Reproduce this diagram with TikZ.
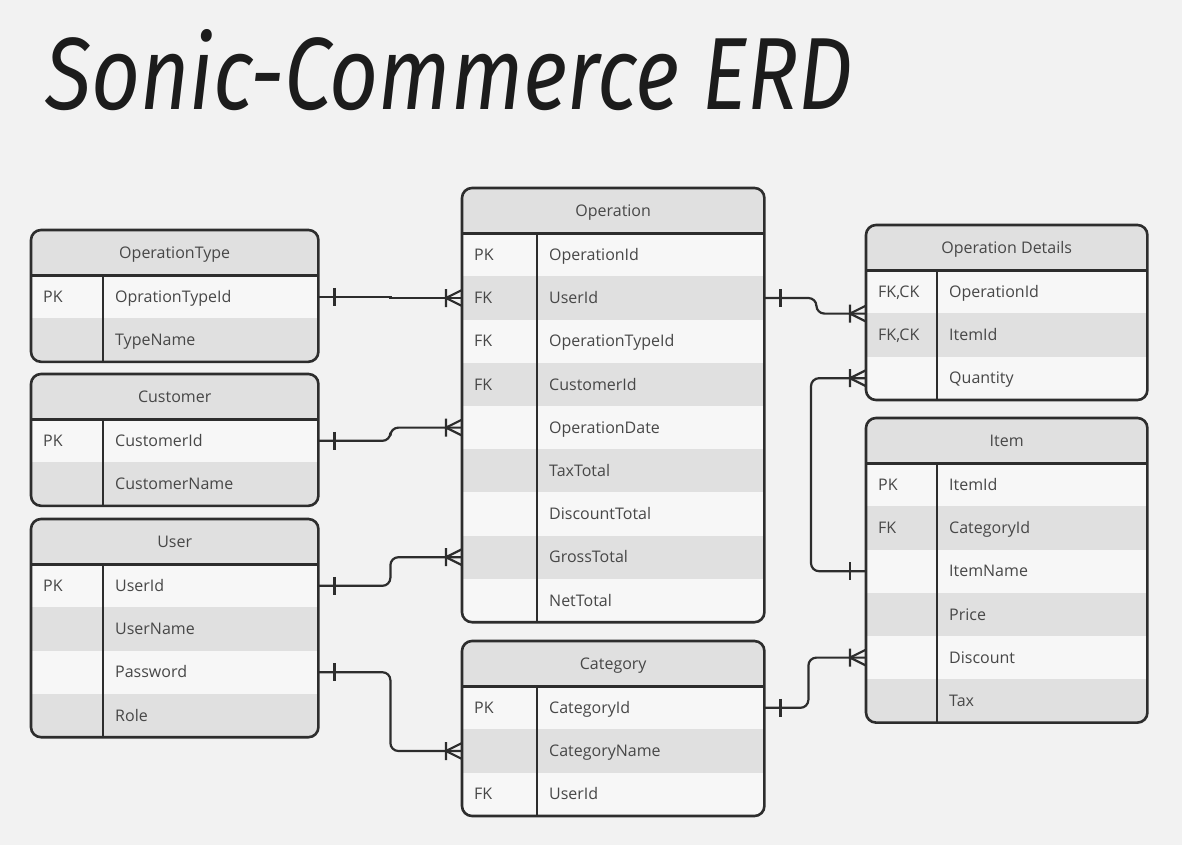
\documentclass[tikz,border=0pt]{standalone}
\usepackage{fontspec}
\usepackage{graphicx}
\setmainfont{Open Sans}
\newfontfamily\titlefont{Fira Sans}
\usetikzlibrary{positioning}

\definecolor{paper}{HTML}{F2F2F2}
\definecolor{rowlight}{HTML}{F7F7F7}
\definecolor{rowdark}{HTML}{E0E0E0}
\definecolor{ink}{HTML}{2D2D2D}
\definecolor{txt}{HTML}{474747}
\definecolor{titleink}{HTML}{1C1C1C}

\tikzset{
    head/.style={anchor=north west, fill=rowdark, minimum height=45pt, inner sep=0pt,
        text height=14pt, text depth=2.6pt, text=txt, font=\fontsize{16}{19}\selectfont},
    field/.style 2 args={anchor=north west, minimum width=#1, text width=#2, minimum height=43.2pt,
        inner ysep=0pt, inner xsep=12pt, align=left, text height=14pt, text depth=2.6pt,
        text=txt, font=\fontsize{16}{19}\selectfont},
    frame/.style={draw=ink, line width=2.6pt, rounded corners=10pt},
    rule/.style={draw=ink, line width=2.6pt},
    link/.style={draw=ink, line width=2.2pt, rounded corners=8pt},
    one/.pic={\draw[ink, line width=2.2pt] (16,-9) -- (16,9);},
    many/.pic={\draw[ink, line width=2.2pt] (16,-9) -- (16,9) (0,-8) -- (16,0) -- (0,8);}
}

\begin{document}
\begin{tikzpicture}[x=1pt, y=-1pt]
    \fill[paper] (0,0) rectangle (1182,845);

    \node[anchor=base west, inner sep=0pt, text=titleink] (title) at (45,110)
        {\resizebox{807pt}{80pt}{\titlefont\itshape Sonic-Commerce ERD}};

    % OperationType
    \begin{scope}
        \clip[rounded corners=10pt] (31,230) rectangle (318,361.4);
        \node[head, minimum width=287pt] (optype) at (31,230) {OperationType};
        \foreach \k/\f [count=\i] in {PK/OprationTypeId, /TypeName} {
            \ifodd\i \def\rowtone{rowlight}\else \def\rowtone{rowdark}\fi
            \node[field={287pt}{263pt}, fill=\rowtone] (optype-\i) at (31,{275+(\i-1)*43.2}) {\makebox[72pt][l]{\k}\f};
        }
    \end{scope}
    \draw[frame] (optype.north west) rectangle (optype-2.south east);
    \draw[rule] (optype.south west) -- (optype.south east)
        ([xshift=72pt]optype-1.north west) -- ([xshift=72pt]optype-2.south west);

    % Customer
    \begin{scope}
        \clip[rounded corners=10pt] (31,374) rectangle (318,505.4);
        \node[head, minimum width=287pt] (cust) at (31,374) {Customer};
        \foreach \k/\f [count=\i] in {PK/CustomerId, /CustomerName} {
            \ifodd\i \def\rowtone{rowlight}\else \def\rowtone{rowdark}\fi
            \node[field={287pt}{263pt}, fill=\rowtone] (cust-\i) at (31,{419+(\i-1)*43.2}) {\makebox[72pt][l]{\k}\f};
        }
    \end{scope}
    \draw[frame] (cust.north west) rectangle (cust-2.south east);
    \draw[rule] (cust.south west) -- (cust.south east)
        ([xshift=72pt]cust-1.north west) -- ([xshift=72pt]cust-2.south west);

    % User
    \begin{scope}
        \clip[rounded corners=10pt] (31,519) rectangle (318,736.8);
        \node[head, minimum width=287pt] (user) at (31,519) {User};
        \foreach \k/\f [count=\i] in {PK/UserId, /UserName, /Password, /Role} {
            \ifodd\i \def\rowtone{rowlight}\else \def\rowtone{rowdark}\fi
            \node[field={287pt}{263pt}, fill=\rowtone] (user-\i) at (31,{564+(\i-1)*43.2}) {\makebox[72pt][l]{\k}\f};
        }
    \end{scope}
    \draw[frame] (user.north west) rectangle (user-4.south east);
    \draw[rule] (user.south west) -- (user.south east)
        ([xshift=72pt]user-1.north west) -- ([xshift=72pt]user-4.south west);

    % Operation
    \begin{scope}
        \clip[rounded corners=10pt] (462,188) rectangle (764,621.8);
        \node[head, minimum width=302pt] (op) at (462,188) {Operation};
        \foreach \k/\f [count=\i] in {PK/OperationId, FK/UserId, FK/OperationTypeId, FK/CustomerId,
                /OperationDate, /TaxTotal, /DiscountTotal, /GrossTotal, /NetTotal} {
            \ifodd\i \def\rowtone{rowlight}\else \def\rowtone{rowdark}\fi
            \node[field={302pt}{278pt}, fill=\rowtone] (op-\i) at (462,{233+(\i-1)*43.2}) {\makebox[75pt][l]{\k}\f};
        }
    \end{scope}
    \draw[frame] (op.north west) rectangle (op-9.south east);
    \draw[rule] (op.south west) -- (op.south east)
        ([xshift=75pt]op-1.north west) -- ([xshift=75pt]op-9.south west);

    % Category
    \begin{scope}
        \clip[rounded corners=10pt] (462,641) rectangle (764,815.6);
        \node[head, minimum width=302pt] (cat) at (462,641) {Category};
        \foreach \k/\f [count=\i] in {PK/CategoryId, /CategoryName, FK/UserId} {
            \ifodd\i \def\rowtone{rowlight}\else \def\rowtone{rowdark}\fi
            \node[field={302pt}{278pt}, fill=\rowtone] (cat-\i) at (462,{686+(\i-1)*43.2}) {\makebox[75pt][l]{\k}\f};
        }
    \end{scope}
    \draw[frame] (cat.north west) rectangle (cat-3.south east);
    \draw[rule] (cat.south west) -- (cat.south east)
        ([xshift=75pt]cat-1.north west) -- ([xshift=75pt]cat-3.south west);

    % Operation Details
    \begin{scope}
        \clip[rounded corners=10pt] (866,225) rectangle (1147,399.6);
        \node[head, minimum width=281pt] (det) at (866,225) {Operation Details};
        \foreach \k/\f [count=\i] in {{FK,CK}/OperationId, {FK,CK}/ItemId, /Quantity} {
            \ifodd\i \def\rowtone{rowlight}\else \def\rowtone{rowdark}\fi
            \node[field={281pt}{257pt}, fill=\rowtone] (det-\i) at (866,{270+(\i-1)*43.2}) {\makebox[71pt][l]{\k}\f};
        }
    \end{scope}
    \draw[frame] (det.north west) rectangle (det-3.south east);
    \draw[rule] (det.south west) -- (det.south east)
        ([xshift=71pt]det-1.north west) -- ([xshift=71pt]det-3.south west);

    % Item
    \begin{scope}
        \clip[rounded corners=10pt] (866,418) rectangle (1147,722.2);
        \node[head, minimum width=281pt] (item) at (866,418) {Item};
        \foreach \k/\f [count=\i] in {PK/ItemId, FK/CategoryId, /ItemName, /Price, /Discount, /Tax} {
            \ifodd\i \def\rowtone{rowlight}\else \def\rowtone{rowdark}\fi
            \node[field={281pt}{257pt}, fill=\rowtone] (item-\i) at (866,{463+(\i-1)*43.2}) {\makebox[71pt][l]{\k}\f};
        }
    \end{scope}
    \draw[frame] (item.north west) rectangle (item-6.south east);
    \draw[rule] (item.south west) -- (item.south east)
        ([xshift=71pt]item-1.north west) -- ([xshift=71pt]item-6.south west);

    % relations
    \draw[link, sharp corners] (optype-1.east) -- ++(72,0) |- (op-2.west);
    \draw[link] (cust-1.east) -- ++(72,0) |- (op-5.west);
    \draw[link] (user-1.east) -- ++(72,0) |- (op-8.west);
    \draw[link] (user-3.east) -- ++(72,0) |- (cat-2.west);
    \draw[link] (op-2.east) -- ++(52,0) |- (det-1.south west);
    \draw[link] (item-3.west) -- ++(-55,0) |- (det-3.west);
    \draw[link] (cat-1.east) -- ++(44,0) |- (item-5.west);

    \pic at (optype-1.east) {one};
    \pic at (cust-1.east) {one};
    \pic at (user-1.east) {one};
    \pic at (user-3.east) {one};
    \pic at (op-2.east) {one};
    \pic at (cat-1.east) {one};
    \pic[xscale=-1] at (item-3.west) {one};
    \pic[xscale=-1] at (op-2.west) {many};
    \pic[xscale=-1] at (op-5.west) {many};
    \pic[xscale=-1] at (op-8.west) {many};
    \pic[xscale=-1] at (cat-2.west) {many};
    \pic[xscale=-1] at (det-1.south west) {many};
    \pic[xscale=-1] at (det-3.west) {many};
    \pic[xscale=-1] at (item-5.west) {many};
\end{tikzpicture}
\end{document}
